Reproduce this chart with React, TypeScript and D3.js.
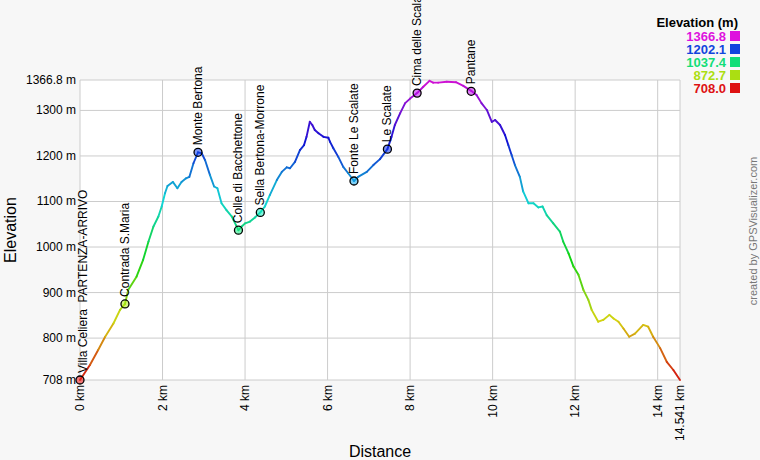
import React from "react";
import * as d3 from "d3";

const W = 760;
const H = 460;
const MIN_E = 708.0;
const MAX_E = 1366.8;
const TOTAL_KM = 14.541;

// Profile: distance (km) and elevation (m)
const distKm = [
  0, 0.24, 0.44, 0.61, 0.81, 0.97, 1.09, 1.17, 1.37, 1.53, 1.66, 1.78, 1.9, 1.98, 2.06, 2.12, 2.25, 2.36, 2.46,
  2.57, 2.65, 2.75, 2.86, 2.95, 3.03, 3.15, 3.25, 3.33, 3.43, 3.55, 3.68, 3.78, 3.84, 3.92, 4.0, 4.12, 4.24,
  4.37, 4.48, 4.6, 4.77, 4.89, 5.01, 5.09, 5.21, 5.33, 5.43, 5.49, 5.57, 5.63, 5.69, 5.78, 5.9, 6.02, 6.06,
  6.14, 6.26, 6.38, 6.5, 6.64, 6.74, 6.95, 7.11, 7.27, 7.45, 7.55, 7.63, 7.76, 7.88, 8.0, 8.17, 8.32, 8.47,
  8.56, 8.68, 8.89, 9.11, 9.29, 9.48, 9.61, 9.73, 9.86, 9.98, 10.06, 10.18, 10.3, 10.38, 10.46, 10.54, 10.66,
  10.74, 10.87, 10.99, 11.11, 11.21, 11.31, 11.47, 11.63, 11.71, 11.84, 11.96, 12.08, 12.2, 12.32, 12.4,
  12.56, 12.68, 12.83, 12.93, 13.05, 13.17, 13.31, 13.45, 13.65, 13.77, 13.89, 14.06, 14.22, 14.38, 14.541,
];
const elevM = [
  708, 741, 774, 803, 832, 862, 875, 906, 935, 972, 1012, 1045, 1067, 1089, 1118, 1134, 1143, 1129, 1143,
  1151, 1154, 1184, 1208, 1206, 1191, 1158, 1133, 1129, 1096, 1081, 1067, 1048, 1037, 1045, 1052, 1056, 1065,
  1076, 1089, 1114, 1147, 1165, 1175, 1173, 1187, 1213, 1224, 1242, 1275, 1268, 1257, 1250, 1242, 1240, 1231,
  1217, 1198, 1176, 1162, 1145, 1154, 1165, 1180, 1193, 1215, 1242, 1268, 1294, 1316, 1326, 1338, 1352, 1365,
  1361, 1361, 1363, 1362, 1354, 1343, 1334, 1316, 1301, 1275, 1279, 1268, 1246, 1224, 1202, 1180, 1154,
  1122, 1096, 1096, 1087, 1089, 1070, 1052, 1034, 1012, 986, 957, 939, 906, 884, 862,
  836, 840, 851, 843, 836, 821, 803, 810, 829, 825, 803, 778, 748, 730, 708,
];

const wpNames = [
  "Villa Celiera\u00a0\u00a0PARTENZA-ARRIVO",
  "Contrada S.Maria",
  "Monte Bertona",
  "Colle di Bacchettone",
  "Sella Bertona-Morrone",
  "Fonte Le Scalate",
  "Le Scalate",
  "Cima delle Scalate",
  "Pantane",
];
const wpDist = [0, 1.09, 2.86, 3.84, 4.37, 6.64, 7.45, 8.17, 9.48];
const wpElev = [708, 875, 1208, 1037, 1076, 1145, 1215, 1338, 1342];

const yTicks = [1366.8, 1300, 1200, 1100, 1000, 900, 800, 708];
const yTickLabels = ["1366.8 m", "1300 m", "1200 m", "1100 m", "1000 m", "900 m", "800 m", "708 m"];
const xTicks = [0, 2, 4, 6, 8, 10, 12, 14, 14.541];
const xTickLabels = ["0 km", "2 km", "4 km", "6 km", "8 km", "10 km", "12 km", "14 km", "14.541 km"];

const legendValues = ["1366.8", "1202.1", "1037.4", "872.7", "708.0"];

const FONT = "'Liberation Sans', Arial, Helvetica, sans-serif";

function colorFor(e: number, l = 0.45) {
  const t = Math.max(0, Math.min(1, (e - MIN_E) / (MAX_E - MIN_E)));
  return d3.hsl(300 * t, 0.85, l).formatHex();
}

export default function App() {
  const left = 80, right = 680, top = 80, bottom = 380;
  const x = d3.scaleLinear().domain([0, TOTAL_KM]).range([left, right]);
  const y = d3.scaleLinear().domain([MIN_E, MAX_E]).range([bottom, top]);

  const segs = [] as any[];
  for (let i = 0; i < distKm.length - 1; i++) {
    segs.push(
      <line
        key={"s" + i}
        x1={x(distKm[i])}
        y1={y(elevM[i])}
        x2={x(distKm[i + 1])}
        y2={y(elevM[i + 1])}
        stroke={colorFor((elevM[i] + elevM[i + 1]) / 2)}
        strokeWidth={1.9}
        strokeLinecap="round"
      />
    );
  }

  const gridX = [0, 2, 4, 6, 8, 10, 12, 14, TOTAL_KM];
  const gridY = [MAX_E, 1300, 1200, 1100, 1000, 900, 800, MIN_E];

  return (
    <svg
      width={W}
      height={H}
      style={{ position: "absolute", left: 0, top: 0, fontFamily: FONT }}
    >
      <rect x={0} y={0} width={W} height={H} fill="#f7f7f7" />
      <rect x={left} y={top} width={right - left} height={bottom - top} fill="#ffffff" />
      {gridY.map((v, i) => (
        <line key={"gy" + i} x1={left} x2={right} y1={y(v)} y2={y(v)} stroke="#cccccc" strokeWidth={1} />
      ))}
      {gridX.map((v, i) => (
        <line key={"gx" + i} x1={x(v)} x2={x(v)} y1={top} y2={bottom} stroke="#cccccc" strokeWidth={1} />
      ))}

      {yTicks.map((v, i) => (
        <text key={"yt" + i} x={76} y={y(v)} fontSize={12} textAnchor="end" dominantBaseline="central" fill="#000">
          {yTickLabels[i]}
        </text>
      ))}
      {xTicks.map((v, i) => (
        <text
          key={"xt" + i}
          transform={`translate(${x(v)},385) rotate(-90)`}
          fontSize={12}
          textAnchor="end"
          dominantBaseline="central"
          fill="#000"
        >
          {xTickLabels[i]}
        </text>
      ))}

      <text x={380} y={457} fontSize={16} textAnchor="middle" fill="#000">
        Distance
      </text>
      <text transform="translate(16,230) rotate(-90)" fontSize={16} textAnchor="middle" fill="#000">
        Elevation
      </text>

      {segs}

      {wpNames.map((n, i) => {
        const px = x(wpDist[i]);
        const py = y(wpElev[i]);
        return (
          <g key={"wp" + i}>
            <circle cx={px} cy={py} r={4} fill={colorFor(wpElev[i], 0.5)} fillOpacity={0.55} stroke="#000" strokeWidth={1.3} />
            <text
              transform={`translate(${Math.max(px, 83)},${py - 7}) rotate(-90)`}
              fontSize={12}
              dominantBaseline="central"
              fill="#000"
            >
              {n}
            </text>
          </g>
        );
      })}

      <text x={738} y={22} fontSize={13} fontWeight="bold" textAnchor="end" dominantBaseline="central" fill="#000">
        Elevation (m)
      </text>
      {legendValues.map((v, i) => {
        const cy = 36 + i * 13;
        const c = colorFor(+v, 0.47);
        return (
          <g key={"lg" + i}>
            <text x={726} y={cy} fontSize={13} fontWeight="bold" textAnchor="end" dominantBaseline="central" fill={c}>
              {v}
            </text>
            <rect x={730} y={cy - 5} width={10} height={10} fill={c} />
          </g>
        );
      })}

      <text transform="translate(753,231) rotate(-90)" fontSize={11} textAnchor="middle" dominantBaseline="central" fill="#777">
        created by GPSVisualizer.com
      </text>
    </svg>
  );
}
